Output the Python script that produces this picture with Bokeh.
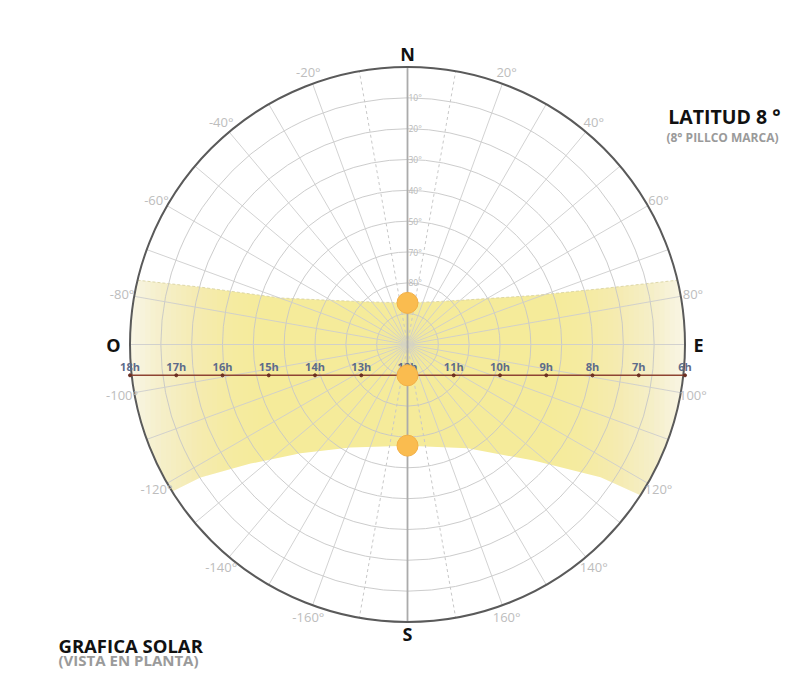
import numpy as np
from bokeh.plotting import figure
from bokeh.embed import file_html
from bokeh.resources import INLINE
from bokeh.core.properties import value

# ---------------- data (azimuth from N, clockwise; altitude in degrees) ----------------
alt_rings = [10, 20, 30, 40, 50, 60, 70, 80]
alt_label_alt = [10, 20, 30, 40, 50, 60, 70]
alt_label_text = ["10°", "20°", "30°", "40°", "50°", "70°", "80°"]

az_grid = list(range(-170, 181, 10))
az_dashed = [-170, -10, 10, 170]
az_fine = list(range(-175, 180, 10))

az_label_val = [-20, -40, -60, -80, -100, -120, -140, -160,
                20, 40, 60, 80, 100, 120, 140, 160]
az_label_text = ["-20°", "-40°", "-60°", "-80°", "-100°", "-120°", "-140°", "-160°",
                 "20°", "40°", "60°", "80°", "100°", "120°", "140°", "160°"]

compass_text = ["N", "E", "S", "O"]
compass_az = [0, 90, 180, -90]
compass_r = [94.2, 94.4, 93.8, 95.4]

hours = [18, 17, 16, 15, 14, 13, 12, 11, 10, 9, 8, 7, 6]
hour_text = ["18h", "17h", "16h", "15h", "14h", "13h", "12h",
             "11h", "10h", "9h", "8h", "7h", "6h"]

# June solstice path (north edge of band), west -> east
june_az = [-76.6, -74.5, -69.9, -59.2, -41.0, 0.0, 37.4, 53.4, 68.8, 73.9, 76.6]
june_alt = [0.0, 20.4, 46.1, 62.1, 71.7, 76.5, 72.4, 65.7, 46.1, 24.8, 0.0]
# December solstice path (south edge of band), west -> east
dec_az = [-122.0, -122.7, -127.2, -135.5, -151.0, 180.0, 149.9, 132.6, 124.5, 122.9]
dec_alt = [0.0, 10.2, 26.1, 40.5, 51.8, 57.2, 51.1, 34.4, 14.0, 0.0]

sun_az = [0, 180, 180]
sun_alt = [76.5, 80.0, 57.2]
equinox_alt = 80.0


def proj(az, alt):
    az = np.radians(np.asarray(az, dtype=float))
    r = 90.0 - np.asarray(alt, dtype=float)
    return r * np.sin(az), r * np.cos(az)


# ---------------- figure ----------------
k = 277.5 / 90.0
cx, cy = 407.0, 344.0
W, H = 787, 679
p = figure(width=W, height=H,
           x_range=((0 - cx) / k, (W - cx) / k),
           y_range=((cy - H) / k, (cy - 0) / k),
           output_backend="svg", toolbar_location=None, min_border=0,
           x_axis_location=None, y_axis_location=None)
p.xgrid.visible = False
p.ygrid.visible = False
p.outline_line_color = None
p.background_fill_color = "white"
p.border_fill_color = "white"

FONT = value("Open Sans")

# ---- band between solstice paths ----
jx, jy = proj(june_az, june_alt)
dx, dy = proj(dec_az, dec_alt)
arc_r = np.linspace(june_az[-1], dec_az[-1], 40)
arx, ary = proj(arc_r, np.zeros_like(arc_r))
arc_l = np.linspace(dec_az[0], june_az[0], 40)
alx, aly = proj(arc_l, np.zeros_like(arc_l))
bx = np.concatenate([jx, arx, dx[::-1], alx])
by = np.concatenate([jy, ary, dy[::-1], aly])
p.patch(bx, by, fill_color="#f5eb9a", line_color=None)

# fade towards the horizon (white nested overlays)
n = 30
span = 50.0
ds = np.linspace(0, span, n + 1)
mids = (ds[:-1] + ds[1:]) / 2
O = 0.85 * (1 - mids / span) ** 1.8
T = 1 - O
alphas = np.empty(n)
tn = 1.0
for i in range(n - 1, -1, -1):
    alphas[i] = 1 - T[i] / tn
    tn = T[i]
for i in range(n):
    p.quad(left=-95, right=-90 + ds[i + 1], bottom=-55, top=26,
           fill_color="white", fill_alpha=float(alphas[i]), line_color=None)
    p.quad(left=90 - ds[i + 1], right=95, bottom=-55, top=26,
           fill_color="white", fill_alpha=float(alphas[i]), line_color=None)

# faint dashed north edge
p.line(jx, jy, line_color="#d6cf9c", line_width=1, line_dash="3 2", line_alpha=0.8)

# ---- grid ----
ring_r = [90 - a for a in alt_rings]
p.circle(x=[0] * len(ring_r), y=[0] * len(ring_r), radius=ring_r,
         fill_color=None, line_color="#c6c6c6", line_width=1, line_alpha=0.9)

solid = [a for a in az_grid if a not in az_dashed and a not in (0, 180)]
gx, gy = proj(solid, [0] * len(solid))
p.segment(x0=0, y0=0, x1=gx, y1=gy, line_color="#cdcdcd", line_width=1, line_alpha=0.9)
dxs, dys = proj(az_dashed, [0] * len(az_dashed))
p.segment(x0=0, y0=0, x1=dxs, y1=dys, line_color="#c8c8c8", line_width=1,
          line_dash="3 3")
fx, fy = proj(az_fine, [80] * len(az_fine))
p.segment(x0=0, y0=0, x1=fx, y1=fy, line_color="#dedbb8", line_width=0.5, line_alpha=0.6)

# N-S axis
nx, ny = proj([0, 180], [0, 0])
p.line(nx, ny, line_color="#ababab", line_width=1.8)

# outer horizon circle
p.circle(x=[0], y=[0], radius=[90], fill_color=None, line_color="#5a5a5a", line_width=2)

# altitude labels on the N axis
lx, ly = proj([0] * len(alt_label_alt), alt_label_alt)
p.text(x=lx, y=ly, text=alt_label_text, text_font=FONT, text_font_size="8.5px",
       text_color="#b8b8b8", text_align="left", text_baseline="middle", x_offset=1)

# azimuth labels
ax_, ay_ = proj(az_label_val, [90 - 94.0] * len(az_label_val))
p.text(x=ax_, y=ay_, text=az_label_text, text_font=FONT, text_font_size="13px",
       text_color="#bdbdbd", text_align="center", text_baseline="middle")

# compass letters
cxs, cys = proj(compass_az, [90 - r for r in compass_r])
p.text(x=cxs, y=cys, text=compass_text, text_font=FONT, text_font_size="18px",
       text_font_style="bold", text_color="#111111", text_align="center",
       text_baseline="middle")

# ---- equinox hour line ----
hour_x = [(12 - h) * 15.0 for h in hours]
line_y = -(90 - equinox_alt)
p.line([hour_x[0], hour_x[-1]], [line_y, line_y], line_color="#8e4433", line_width=1.5)
p.scatter(x=hour_x, y=[line_y] * len(hours), size=3, color="#6b2e22")
p.text(x=hour_x, y=[line_y] * len(hours), text=hour_text, text_font=FONT,
       text_font_size="11px", text_font_style="bold", text_color="#5d6b8a",
       text_align="center", text_baseline="middle", y_offset=-9)

# ---- sun positions ----
sx, sy = proj(sun_az, sun_alt)
p.scatter(x=sx, y=sy, size=21, fill_color="#fabc4f", line_color="#f3b046", line_width=1)

# ---- titles ----
p.text(x=[(780 - cx) / k], y=[(cy - 116.3) / k], text=["LATITUD 8 °"], text_font=FONT,
       text_font_size="19.5px", text_font_style="bold", text_color="#111111",
       text_align="right", text_baseline="middle")
p.text(x=[(778 - cx) / k], y=[(cy - 137.3) / k], text=["(8° PILLCO MARCA)"], text_font=FONT,
       text_font_size="12px", text_font_style="bold", text_color="#9a9a9a",
       text_align="right", text_baseline="middle")
p.text(x=[(58 - cx) / k], y=[(cy - 645) / k], text=["GRAFICA SOLAR"], text_font=FONT,
       text_font_size="18.5px", text_font_style="bold", text_color="#111111",
       text_align="left", text_baseline="middle")
p.text(x=[(58 - cx) / k], y=[(cy - 659.7) / k], text=["(VISTA EN PLANTA)"], text_font=FONT,
       text_font_size="15px", text_font_style="bold", text_color="#9a9a9a",
       text_align="left", text_baseline="middle")

open("out.html", "w").write(file_html(p, INLINE))
